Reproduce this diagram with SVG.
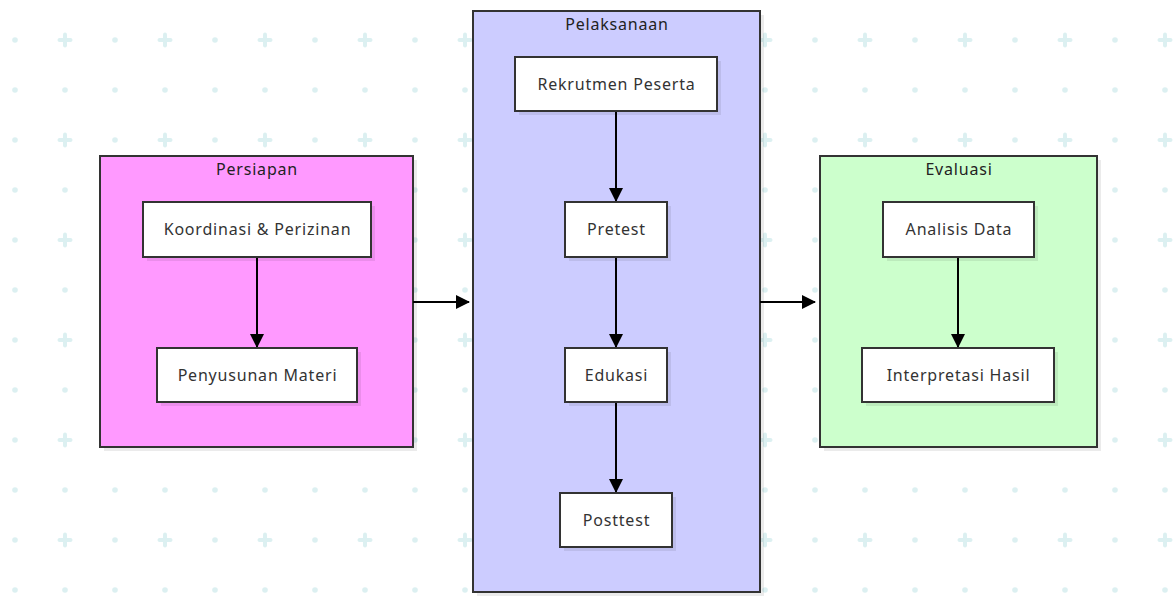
<svg xmlns="http://www.w3.org/2000/svg" width="1174" height="596" viewBox="0 0 1174 596">
<defs>
<pattern id="bg" x="0" y="0" width="100" height="100" patternUnits="userSpaceOnUse">
<circle cx="15" cy="40" r="2.8" fill="#dcf0f1"/>
<circle cx="15" cy="90" r="2.8" fill="#dcf0f1"/>
<circle cx="65" cy="90" r="2.8" fill="#dcf0f1"/>
<rect x="57.5" y="38" width="15" height="4" rx="2" fill="#dcf0f1"/>
<rect x="63" y="32.5" width="4" height="15" rx="2" fill="#dcf0f1"/>
</pattern>
<marker id="ah" viewBox="0 0 14 14" refX="13" refY="7" markerWidth="14" markerHeight="14" markerUnits="userSpaceOnUse" orient="auto">
<path d="M0,0 L14,7 L0,14 Z" fill="#000"/>
</marker>
</defs>
<style>
.cl{stroke:#333;stroke-width:2}
.sh{fill:#000;opacity:0.08}
.nd{fill:#fff;stroke:#333;stroke-width:2}
.tt{font-family:"Noto Sans","Open Sans",sans-serif;font-size:16px;letter-spacing:0.8px;fill:#222;text-anchor:middle}
.nt{font-family:"Noto Sans","Open Sans",sans-serif;font-size:16px;letter-spacing:0.8px;fill:#333;text-anchor:middle}
.ed{stroke:#000;stroke-width:2;fill:none;marker-end:url(#ah)}
</style>
<rect width="1174" height="596" fill="#fff"/>
<rect width="1174" height="596" fill="url(#bg)"/>

<g id="persiapan">
<rect class="sh" x="104" y="160" width="313" height="291"/>
<rect class="cl" x="100" y="156" width="313" height="291" fill="#ff99ff"/>
<text class="tt" x="257" y="175">Persiapan</text>
</g>
<g id="pelaksanaan">
<rect class="sh" x="477" y="15" width="287" height="581"/>
<rect class="cl" x="473" y="11" width="287" height="581" fill="#ccccff"/>
<text class="tt" x="617" y="30">Pelaksanaan</text>
</g>
<g id="evaluasi">
<rect class="sh" x="824" y="160" width="277" height="291"/>
<rect class="cl" x="820" y="156" width="277" height="291" fill="#ccffcc"/>
<text class="tt" x="959" y="175">Evaluasi</text>
</g>

<g id="connectors">
<line class="ed" x1="257" y1="257" x2="257" y2="347"/>
<line class="ed" x1="616" y1="111" x2="616" y2="201"/>
<line class="ed" x1="616" y1="257" x2="616" y2="347"/>
<line class="ed" x1="616" y1="402" x2="616" y2="492"/>
<line class="ed" x1="958" y1="257" x2="958" y2="347"/>
<line class="ed" x1="413" y1="302" x2="469" y2="302"/>
<line class="ed" x1="760" y1="302" x2="815" y2="302"/>
</g>

<g id="koordinasi">
<rect class="sh" x="147" y="206" width="228" height="55"/>
<rect class="nd" x="143" y="202" width="228" height="55"/>
<text class="nt" x="257.5" y="235">Koordinasi &amp; Perizinan</text>
</g>
<g id="penyusunan">
<rect class="sh" x="161" y="352" width="200" height="54"/>
<rect class="nd" x="157" y="348" width="200" height="54"/>
<text class="nt" x="257.5" y="381">Penyusunan Materi</text>
</g>
<g id="rekrutmen">
<rect class="sh" x="519" y="61" width="202" height="54"/>
<rect class="nd" x="515" y="57" width="202" height="54"/>
<text class="nt" x="616.5" y="90">Rekrutmen Peserta</text>
</g>
<g id="pretest">
<rect class="sh" x="569" y="206" width="102" height="55"/>
<rect class="nd" x="565" y="202" width="102" height="55"/>
<text class="nt" x="616.5" y="235">Pretest</text>
</g>
<g id="edukasi">
<rect class="sh" x="569" y="352" width="102" height="54"/>
<rect class="nd" x="565" y="348" width="102" height="54"/>
<text class="nt" x="616.5" y="381">Edukasi</text>
</g>
<g id="posttest">
<rect class="sh" x="564" y="497" width="112" height="54"/>
<rect class="nd" x="560" y="493" width="112" height="54"/>
<text class="nt" x="616.5" y="526">Posttest</text>
</g>
<g id="analisis">
<rect class="sh" x="887" y="206" width="151" height="55"/>
<rect class="nd" x="883" y="202" width="151" height="55"/>
<text class="nt" x="959" y="235">Analisis Data</text>
</g>
<g id="interpretasi">
<rect class="sh" x="866" y="352" width="192" height="54"/>
<rect class="nd" x="862" y="348" width="192" height="54"/>
<text class="nt" x="958.5" y="381">Interpretasi Hasil</text>
</g>
</svg>
